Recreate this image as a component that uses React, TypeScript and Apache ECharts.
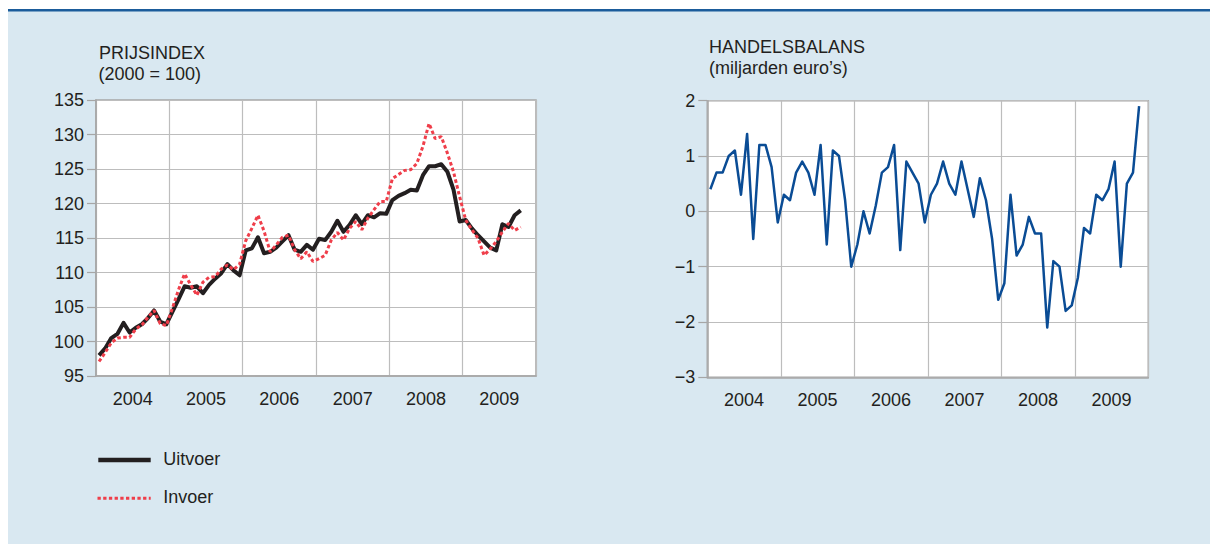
import React, { useEffect, useRef } from 'react';
import * as echarts from 'echarts';

const years = ['2004', '2005', '2006', '2007', '2008', '2009'];

const uitvoer = [
  98.0, 99.0, 100.5, 101.1, 102.7, 101.3, 102.0, 102.5, 103.4, 104.5, 102.9, 102.5,
  104.3, 106.1, 108.0, 107.8, 108.0, 107.0, 108.2, 109.1, 109.9, 111.2, 110.3, 109.6,
  113.2, 113.5, 115.1, 112.8, 113.0, 113.6, 114.5, 115.4, 113.3, 113.0, 114.0, 113.3,
  114.9, 114.7, 115.9, 117.5, 115.9, 116.9, 118.3, 117.0, 118.3, 118.0, 118.6, 118.5,
  120.5, 121.1, 121.5, 122.0, 121.9, 124.1, 125.4, 125.4, 125.7, 124.6, 122.0, 117.4,
  117.6, 116.4, 115.4, 114.5, 113.6, 113.2, 117.0, 116.6, 118.3, 119.0,
];

const invoer = [
  97.1, 98.4, 99.8, 100.5, 100.6, 100.6, 101.8, 102.4, 103.5, 104.5, 102.6, 102.3,
  104.8, 107.5, 109.8, 108.2, 106.7, 108.6, 109.3, 109.4, 110.5, 111.1, 110.4, 111.2,
  114.6, 116.4, 118.3, 116.0, 113.0, 114.0, 115.1, 115.4, 113.3, 112.0, 113.0, 111.6,
  112.0, 112.5, 114.7, 115.8, 114.7, 116.4, 117.4, 116.2, 117.9, 119.1, 120.3, 120.3,
  123.6, 124.2, 124.8, 124.9, 125.8, 128.3, 131.6, 129.4, 129.7, 127.3, 124.6, 121.0,
  117.6, 116.2, 115.0, 112.5, 113.4, 114.5, 115.9, 117.1, 116.1, 116.6,
];

const handelsbalans = [
  0.4, 0.7, 0.7, 1.0, 1.1, 0.3, 1.4, -0.5, 1.2, 1.2, 0.8, -0.2,
  0.3, 0.2, 0.7, 0.9, 0.7, 0.3, 1.2, -0.6, 1.1, 1.0, 0.2, -1.0,
  -0.6, 0.0, -0.4, 0.1, 0.7, 0.8, 1.2, -0.7, 0.9, 0.7, 0.5, -0.2,
  0.3, 0.5, 0.9, 0.5, 0.3, 0.9, 0.4, -0.1, 0.6, 0.2, -0.5, -1.6,
  -1.3, 0.3, -0.8, -0.6, -0.1, -0.4, -0.4, -2.1, -0.9, -1.0, -1.8, -1.7,
  -1.2, -0.3, -0.4, 0.3, 0.2, 0.4, 0.9, -1.0, 0.5, 0.7, 1.9,
];

const leftTitle = ['PRIJSINDEX', '(2000 = 100)'];
const rightTitle = ['HANDELSBALANS', '(miljarden euro\u2019s)'];
const legendNames = ['Uitvoer', 'Invoer'];

const FONT = "'Liberation Sans', Arial, Helvetica, sans-serif";
const TEXT = '#231f20';
const GRID_LINE = '#bdbdbd';
const AXIS_LINE = '#a6a6a6';
const PANEL = '#d9e8f1';
const BLACK = '#231f20';
const RED = '#ef3e4a';
const BLUE = '#0a4c95';
const RED_DASH = [3.5, 2.5];

const monthCount = years.length * 12;
const toPoints = (vals: number[]) => vals.map((v, i) => [i + 0.5, v]);

function monthAxis(gridIndex: number) {
  return {
    gridIndex,
    type: 'value',
    min: 0,
    max: monthCount,
    interval: 12,
    axisLabel: { show: false },
    axisTick: { show: false },
    axisLine: { show: true, onZero: false, lineStyle: { color: AXIS_LINE, width: 1.5 } },
    splitLine: { show: true, lineStyle: { color: GRID_LINE, width: 1.2 } },
  };
}

function yearAxis(gridIndex: number) {
  return {
    gridIndex,
    type: 'category',
    data: years,
    position: 'bottom',
    boundaryGap: true,
    axisLine: { show: false, onZero: false },
    axisTick: { show: false },
    splitLine: { show: false },
    axisLabel: { fontSize: 18, color: TEXT, fontFamily: FONT, margin: 14 },
  };
}

function valueAxis(gridIndex: number, min: number, max: number, interval: number, fmt?: (v: number) => string) {
  return {
    gridIndex,
    type: 'value',
    min,
    max,
    interval,
    axisLine: { show: true, onZero: false, lineStyle: { color: AXIS_LINE, width: 1.5 } },
    axisTick: { show: true, length: 9, lineStyle: { color: AXIS_LINE, width: 1.2 } },
    axisLabel: { fontSize: 18, color: TEXT, fontFamily: FONT, margin: 12, formatter: fmt },
    splitLine: { show: true, lineStyle: { color: GRID_LINE, width: 1.2 } },
  };
}

function titleText(text: string, x: number, y: number) {
  return {
    type: 'text',
    x,
    y,
    style: { text, fill: TEXT, font: `18px ${FONT}`, verticalAlign: 'middle', align: 'left' },
  };
}

export default function App() {
  const ref = useRef<HTMLDivElement>(null);

  useEffect(() => {
    if (!ref.current) return;
    const chart = echarts.init(ref.current, null, { renderer: 'svg' });
    const option: any = {
      animation: false,
      backgroundColor: PANEL,
      textStyle: { fontFamily: FONT },
      grid: [
        { left: 88, top: 92, width: 440, height: 276, show: true, backgroundColor: '#ffffff', borderColor: AXIS_LINE, borderWidth: 1.5 },
        { left: 699.3, top: 92.7, width: 441, height: 276.6, show: true, backgroundColor: '#ffffff', borderColor: AXIS_LINE, borderWidth: 1.5 },
      ],
      xAxis: [monthAxis(0), yearAxis(0), monthAxis(1), yearAxis(1)],
      yAxis: [
        valueAxis(0, 95, 135, 5),
        valueAxis(1, -3, 2, 1, (v: number) => (v < 0 ? '\u2212' + Math.abs(v) : String(v))),
      ],
      series: [
        {
          name: legendNames[0],
          type: 'line',
          xAxisIndex: 0,
          yAxisIndex: 0,
          data: toPoints(uitvoer),
          symbol: 'none',
          lineStyle: { color: BLACK, width: 4, join: 'round' },
          itemStyle: { color: BLACK },
          z: 3,
        },
        {
          name: legendNames[1],
          type: 'line',
          xAxisIndex: 0,
          yAxisIndex: 0,
          data: toPoints(invoer),
          symbol: 'none',
          lineStyle: { color: RED, width: 3, type: RED_DASH },
          itemStyle: { color: RED },
          z: 4,
        },
        {
          name: 'Handelsbalans',
          type: 'line',
          xAxisIndex: 2,
          yAxisIndex: 1,
          data: toPoints(handelsbalans),
          symbol: 'none',
          lineStyle: { color: BLUE, width: 2.5, join: 'round' },
          itemStyle: { color: BLUE },
          z: 3,
        },
      ],
      graphic: [
        { type: 'rect', shape: { x: 0, y: 0, width: 1210, height: 1 }, style: { fill: '#ffffff' } },
        { type: 'rect', shape: { x: 0, y: 1, width: 1210, height: 2.5 }, style: { fill: '#1b5c9b' } },
        titleText(leftTitle[0], 91, 44.5),
        titleText(leftTitle[1], 90.5, 65.5),
        titleText(rightTitle[0], 701, 38.5),
        titleText(rightTitle[1], 701, 59.5),
        { type: 'line', shape: { x1: 90.3, y1: 452, x2: 142.7, y2: 452 }, style: { stroke: BLACK, lineWidth: 4.3 } },
        titleText(legendNames[0], 155.3, 450.5),
        { type: 'line', shape: { x1: 89.5, y1: 490.3, x2: 142.7, y2: 490.3 }, style: { stroke: RED, lineWidth: 3, lineDash: [3.3, 2.4] } },
        titleText(legendNames[1], 155.3, 489),
      ],
    };
    chart.setOption(option);
    return () => chart.dispose();
  }, []);

  return <div ref={ref} style={{ width: 1210, height: 536 }} />;
}
